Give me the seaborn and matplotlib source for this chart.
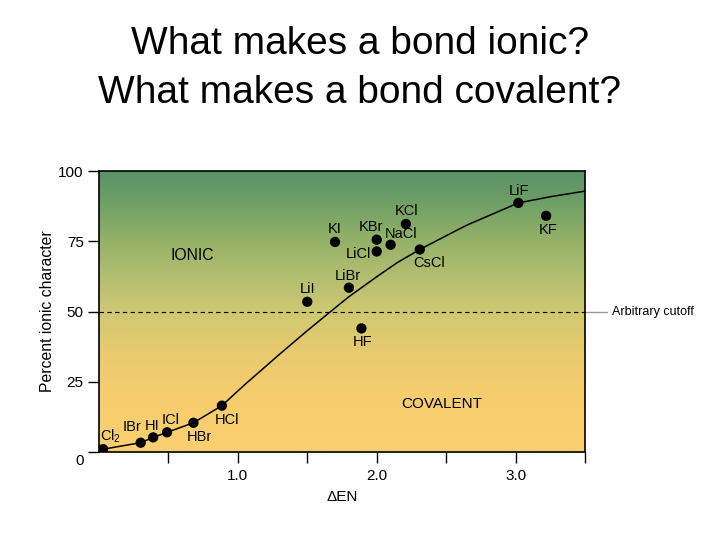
import numpy as np
import pandas as pd
import matplotlib
matplotlib.use('Agg')
import matplotlib.pyplot as plt
import matplotlib.transforms as mtransforms
from matplotlib.colors import LinearSegmentedColormap
import seaborn as sns

# compounds: delta EN vs percent ionic character
compounds = ['Cl$_2$', 'IBr', 'HI', 'ICl', 'HBr', 'HCl', 'LiI', 'KI', 'LiBr', 'HF',
             'KBr', 'LiCl', 'NaCl', 'KCl', 'CsCl', 'LiF', 'KF']
delta_en = [0.03, 0.30, 0.39, 0.49, 0.68, 0.885, 1.50, 1.70, 1.80, 1.89,
            2.00, 2.00, 2.10, 2.21, 2.31, 3.02, 3.22]
ionic_pct = [1.0, 3.3, 5.2, 7.0, 10.4, 16.5, 53.5, 74.8, 58.5, 44.0,
             75.6, 71.4, 73.8, 81.2, 72.1, 88.7, 84.1]
# label offsets in points (dx, dy)
label_dx = [5, -6.5, -0.7, 2.7, 4.3, 3.8, 0, 0, -0.5, 0.5, -4, -13.2, 7.4, 0.7, 6.5, 0.5, 1.2]
label_dy = [9.5, 11.5, 8.4, 8.9, -10.5, -10.3, 9.1, 9.1, 8.6, -10, 8.9, -1.9, 7.7, 9.4, -9.4, 8.6, -10.3]

# curve
curve_x = [0.03, 0.30, 0.39, 0.49, 0.68, 0.885, 1.05, 1.18, 1.30, 1.50, 1.66, 1.80,
           2.00, 2.15, 2.31, 2.50, 2.65, 2.80, 3.02, 3.25, 3.50]
curve_y = [1.0, 3.3, 5.2, 7.0, 10.4, 16.5, 24.0, 29.6, 34.8, 43.2, 49.7, 55.3,
           62.4, 67.5, 72.1, 77.0, 80.8, 84.0, 88.7, 90.9, 92.9]

df = pd.DataFrame({'x': delta_en, 'y': ionic_pct, 'name': compounds})
curve = pd.DataFrame({'x': curve_x, 'y': curve_y})

sns.set_style("white")
plt.rcParams['font.family'] = ['Liberation Sans', 'DejaVu Sans']
plt.rcParams['mathtext.fontset'] = 'custom'
plt.rcParams['mathtext.rm'] = 'Liberation Sans'
plt.rcParams['mathtext.it'] = 'Liberation Sans'
plt.rcParams['text.color'] = 'black'
plt.rcParams['axes.labelcolor'] = 'black'
plt.rcParams['xtick.color'] = 'black'
plt.rcParams['ytick.color'] = 'black'

fig = plt.figure(figsize=(7.2, 5.4), dpi=100)
ax = fig.add_axes([0.1375, 0.163, 0.675, 0.52])

# background gradient (bottom yellow -> top green)
cmap = LinearSegmentedColormap.from_list('bg', [
    (0.0, '#fad070'), (0.2, '#f6cd6e'), (0.35, '#e9ca6e'), (0.5, '#cfc872'),
    (0.62, '#b4bf70'), (0.75, '#95b268'), (0.9, '#6c9e66'), (1.0, '#5a9268')])
grad = np.linspace(0, 1, 256).reshape(-1, 1)
ax.imshow(grad, cmap=cmap, origin='lower', aspect='auto',
          extent=[0, 3.5, 0, 100], zorder=0)

sns.lineplot(data=curve, x='x', y='y', sort=False, estimator=None,
             color='black', linewidth=1.1, ax=ax, zorder=2)
sns.scatterplot(data=df, x='x', y='y', color='black', s=55, edgecolor='none',
                ax=ax, zorder=3)

for n, x, y, dx, dy in zip(compounds, delta_en, ionic_pct, label_dx, label_dy):
    ax.annotate(n, (x, y), xytext=(dx, dy), textcoords='offset points',
                ha='center', va='center', fontsize=10.5, color='black')

ax.axhline(50, color='black', linestyle=(0, (4, 3)), linewidth=0.8, zorder=1)
ax.plot([1.0, 1.045], [0.5, 0.5], transform=ax.transAxes, color='#999999',
        linewidth=1, clip_on=False)
ax.text(1.055, 0.5, 'Arbitrary cutoff', transform=ax.transAxes, fontsize=9,
        va='center', ha='left')

ax.text(0.67, 69.8, 'IONIC', fontsize=11.3, ha='center', va='center')
ax.text(2.47, 17.1, 'COVALENT', fontsize=11, ha='center', va='center')

ax.set_xlim(0, 3.5)
ax.set_ylim(0, 100)
ax.set_xticks([0.5, 1.0, 1.5, 2.0, 2.5, 3.0, 3.5])
ax.set_xticklabels(['', '1.0', '', '2.0', '', '3.0', ''])
ax.set_yticks([0, 25, 50, 75, 100])
ax.set_yticklabels(['0', '25', '50', '75', '100'])
ax.tick_params(axis='both', direction='out', length=8, width=1, labelsize=11,
               bottom=True, left=True)
ax.tick_params(axis='y', pad=3)
ax.tick_params(axis='x', pad=4)
# the "0" sits a little below the axis corner
ylabs = ax.get_yticklabels()
ylabs[0].set_transform(ylabs[0].get_transform() +
                       mtransforms.ScaledTranslation(0, -8 / 100, fig.dpi_scale_trans))
ax.set_xlabel('ΔEN', fontsize=11, labelpad=5)
ax.set_ylabel('Percent ionic character', fontsize=11.3, labelpad=2)
for s in ax.spines.values():
    s.set_color('black')
    s.set_linewidth(1.2)

fig.text(0.5, 0.918, 'What makes a bond ionic?', ha='center', va='center', fontsize=28)
fig.text(0.5, 0.827, 'What makes a bond covalent?', ha='center', va='center', fontsize=28)

plt.savefig('out.png', dpi=100)
